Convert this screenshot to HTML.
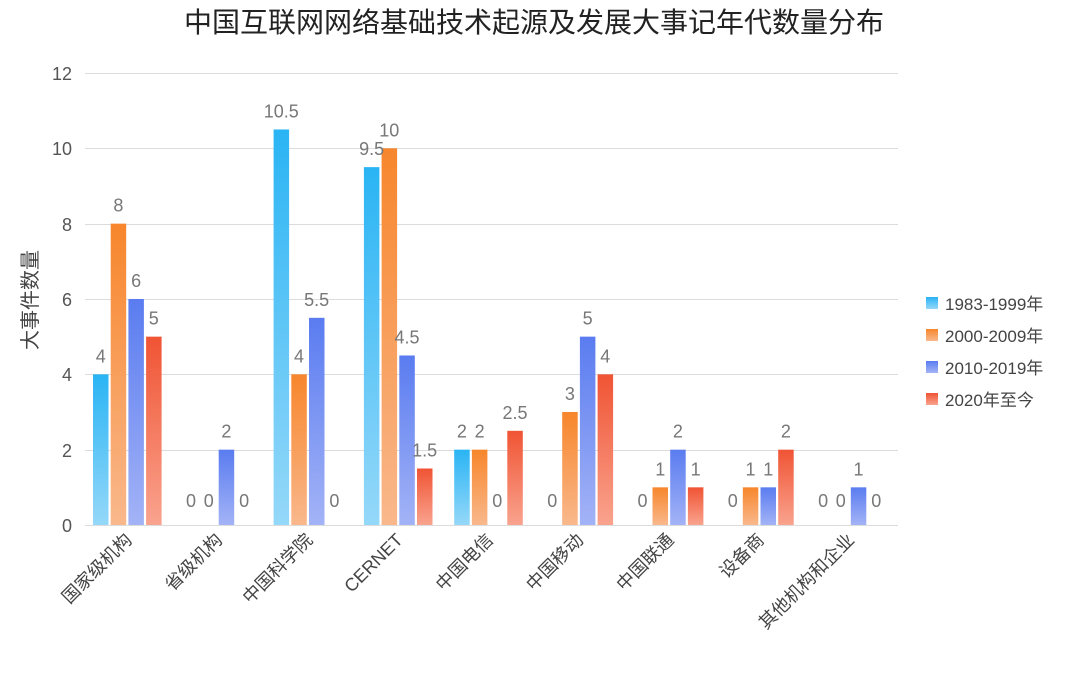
<!DOCTYPE html>
<html><head><meta charset="utf-8"><style>
body{margin:0;background:#fff;}
svg{font-family:"Liberation Sans","Noto Sans CJK SC",sans-serif;}
</style></head><body>
<svg width="1080" height="670" xmlns="http://www.w3.org/2000/svg">
<defs>
<linearGradient id="g0" x1="0" y1="0" x2="0" y2="1"><stop offset="0" stop-color="#2ab4f4"/><stop offset="1" stop-color="#95d8f9"/></linearGradient>
<linearGradient id="g1" x1="0" y1="0" x2="0" y2="1"><stop offset="0" stop-color="#f7862c"/><stop offset="1" stop-color="#f9b88c"/></linearGradient>
<linearGradient id="g2" x1="0" y1="0" x2="0" y2="1"><stop offset="0" stop-color="#5a7cf0"/><stop offset="1" stop-color="#a3b3f6"/></linearGradient>
<linearGradient id="g3" x1="0" y1="0" x2="0" y2="1"><stop offset="0" stop-color="#f05434"/><stop offset="1" stop-color="#f9a38e"/></linearGradient>
</defs>
<text x="534" y="32" font-size="28" text-anchor="middle" fill="#222">中国互联网网络基础技术起源及发展大事记年代数量分布</text>
<g stroke="#dcdcdc" stroke-width="1">
<line x1="85" x2="898" y1="73.5" y2="73.5"/><line x1="85" x2="898" y1="148.5" y2="148.5"/>
<line x1="85" x2="898" y1="224.5" y2="224.5"/><line x1="85" x2="898" y1="299.5" y2="299.5"/>
<line x1="85" x2="898" y1="374.5" y2="374.5"/><line x1="85" x2="898" y1="450.5" y2="450.5"/>
<line x1="85" x2="898" y1="525.5" y2="525.5"/>
</g>
<g font-size="18" fill="#555" text-anchor="end">
<text x="72" y="80">12</text><text x="72" y="155">10</text><text x="72" y="231">8</text>
<text x="72" y="306">6</text><text x="72" y="381">4</text><text x="72" y="457">2</text><text x="72" y="532">0</text>
</g>
<text transform="translate(37,300) rotate(-90)" font-size="20" fill="#444" text-anchor="middle">大事件数量</text>
<g id="bars"></g>
<g id="labels" font-size="18" fill="#777" text-anchor="middle"></g>
<g id="xl" font-size="18" fill="#444" text-anchor="end"></g>
<g font-size="17" fill="#444">
<rect x="926" y="297" width="12" height="12" fill="url(#g0)"/><text x="945" y="310">1983-1999年</text>
<rect x="926" y="329" width="12" height="12" fill="url(#g1)"/><text x="945" y="342">2000-2009年</text>
<rect x="926" y="361" width="12" height="12" fill="url(#g2)"/><text x="945" y="374">2010-2019年</text>
<rect x="926" y="393" width="12" height="12" fill="url(#g3)"/><text x="945" y="406">2020年至今</text>
</g>
<script>
var d=[[4,8,6,5],[0,0,2,0],[10.5,4,5.5,0],[9.5,10,4.5,1.5],[2,2,0,2.5],[0,3,5,4],[0,1,2,1],[0,1,1,2],[0,0,1,0]];
var names=["国家级机构","省级机构","中国科学院","CERNET","中国电信","中国移动","中国联通","设备商","其他机构和企业"];
var ns="http://www.w3.org/2000/svg",B=document.getElementById("bars"),L=document.getElementById("labels"),X=document.getElementById("xl");
var base=525,u=37.67;
for(var i=0;i<9;i++){var s=93+i*90.3;
 for(var j=0;j<4;j++){var v=d[i][j],x=s+j*17.7,h=v*u;
  if(v>0){var r=document.createElementNS(ns,"rect");r.setAttribute("x",x);r.setAttribute("y",base-h);r.setAttribute("width",15.5);r.setAttribute("height",h);r.setAttribute("fill","url(#g"+j+")");B.appendChild(r);}
  var t=document.createElementNS(ns,"text");t.setAttribute("x",x+7.7);t.setAttribute("y",v>0?base-h-12:base-18);t.textContent=v;L.appendChild(t);}
 var c=s+34,tx=document.createElementNS(ns,"text");tx.setAttribute("transform","translate("+(c+6)+",541) rotate(-45)");tx.textContent=names[i];X.appendChild(tx);}
</script>
</svg>
</body></html>
